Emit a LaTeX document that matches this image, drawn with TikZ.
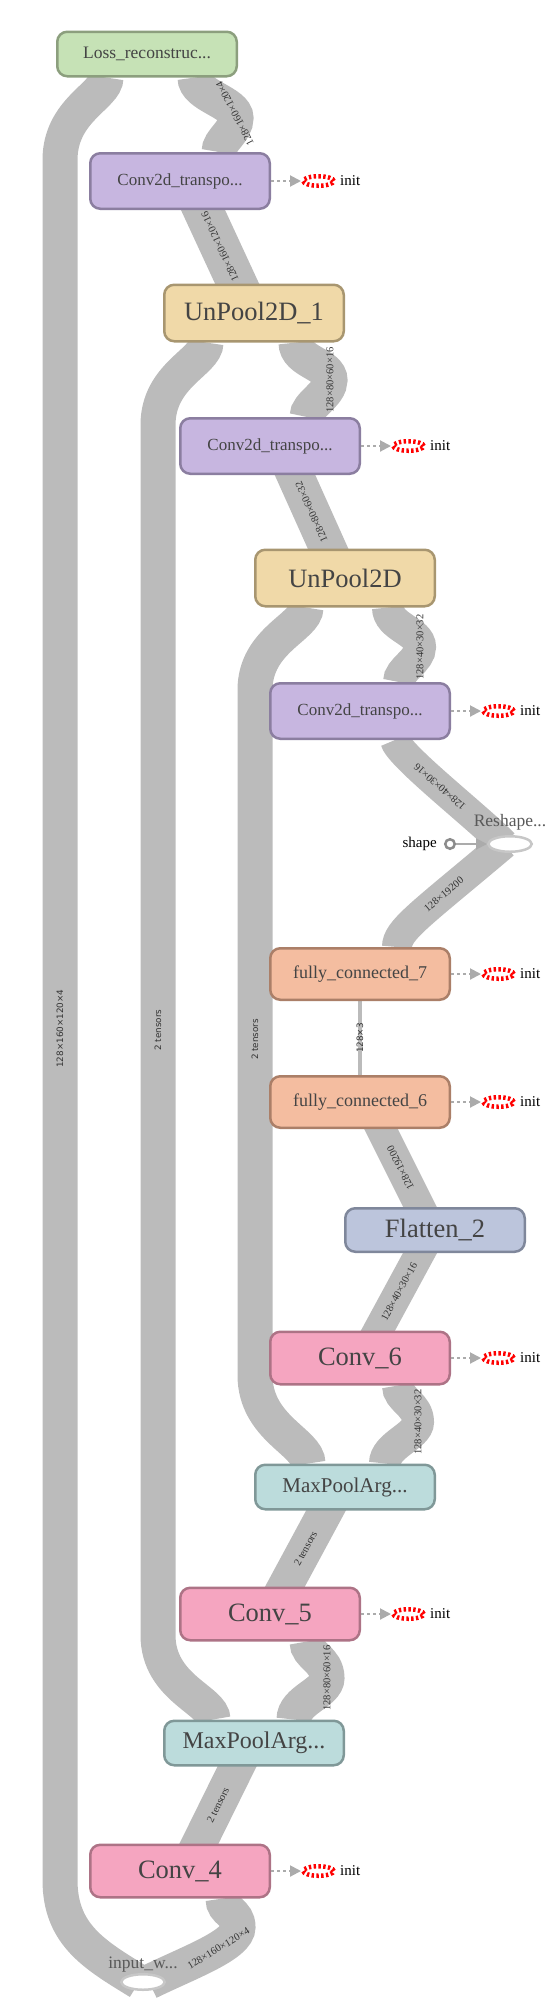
\documentclass[tikz,border=0pt]{standalone}
\usepackage{fontspec}
\setmainfont{Liberation Serif}
\setsansfont{DejaVu Sans}
\usetikzlibrary{arrows.meta,shapes,positioning}
\pgfdeclarelayer{background}
\pgfsetlayers{background,main}
\definecolor{bandgray}{HTML}{BBBBBB}
\definecolor{nodetext}{HTML}{444444}
\definecolor{lossfill}{HTML}{C6E2B6}
\definecolor{lossdraw}{HTML}{8C9F7E}
\definecolor{ctfill}{HTML}{C7B6E0}
\definecolor{ctdraw}{HTML}{8B7EA0}
\definecolor{unpfill}{HTML}{F0D9A8}
\definecolor{unpdraw}{HTML}{A89670}
\definecolor{fcfill}{HTML}{F4BDA0}
\definecolor{fcdraw}{HTML}{AB7F68}
\definecolor{flatfill}{HTML}{BCC5DC}
\definecolor{flatdraw}{HTML}{7F879B}
\definecolor{convfill}{HTML}{F5A5C0}
\definecolor{convdraw}{HTML}{AD7386}
\definecolor{poolfill}{HTML}{BCDCDC}
\definecolor{pooldraw}{HTML}{809898}
\tikzstyle{op}=[rectangle, rounded corners=10pt, line width=2.5pt, minimum width=179.5pt, inner sep=0pt, text=nodetext]
\tikzstyle{loss op}=[op, fill=lossfill, draw=lossdraw, minimum height=44.5pt, font=\fontsize{17.5}{20}\selectfont]
\tikzstyle{convt op}=[op, fill=ctfill, draw=ctdraw, minimum height=55.5pt, font=\fontsize{17}{20}\selectfont]
\tikzstyle{unpool op}=[op, fill=unpfill, draw=unpdraw, minimum height=56.5pt, font=\fontsize{26.5}{30}\selectfont]
\tikzstyle{fc op}=[op, fill=fcfill, draw=fcdraw, minimum height=51.5pt, font=\fontsize{18}{21}\selectfont]
\tikzstyle{flat op}=[op, fill=flatfill, draw=flatdraw, minimum height=43.5pt, font=\fontsize{26.5}{30}\selectfont]
\tikzstyle{conv op}=[op, fill=convfill, draw=convdraw, minimum height=52.5pt, font=\fontsize{26.5}{30}\selectfont]
\tikzstyle{pool op}=[op, fill=poolfill, draw=pooldraw, minimum height=44.5pt]
\tikzstyle{const node}=[ellipse, fill=white, draw=black!22, line width=2.5pt, minimum width=43.5pt, minimum height=15.5pt, inner sep=0pt]
\tikzstyle{const label}=[text=black!65, font=\fontsize{17.5}{18}\selectfont, inner sep=0pt]
\tikzstyle{shape in}=[circle, fill=white, draw=black!45, line width=2.5pt, minimum size=9.5pt, inner sep=0pt]
\tikzstyle{init var}=[ellipse, fill=white, draw=red, line width=4.5pt, dash pattern=on 2.4pt off 2.4pt, minimum width=30.5pt, minimum height=9.5pt, inner sep=0pt]
\tikzstyle{init text}=[font=\fontsize{15}{15}\selectfont, inner sep=0pt]
\tikzstyle{init edge}=[draw=black!33, line width=2pt, dash pattern=on 3pt off 3pt, -{Triangle[length=11pt,width=11pt]}]
\tikzstyle{shape edge}=[draw=black!33, line width=2pt, -{Triangle[length=11pt,width=11pt]}]
\tikzstyle{band}=[draw=bandgray]
\tikzstyle{elabel}=[font=\fontsize{10.5}{11}\selectfont, inner sep=0pt, sloped, allow upside down, text=black!80]
\tikzstyle{vlabel}=[elabel, font=\sffamily\fontsize{8.8}{9}\selectfont]

\begin{document}
\begin{tikzpicture}[x=1pt,y=-1pt]
    \useasboundingbox (0,0) rectangle (558,2000);
    % Op nodes, from the top down
    \node[loss op] (loss) at (147,54) {Loss\_reconstruc...};
    \node[convt op] (ct1) at (180,181) {Conv2d\_transpo...};
    \node[unpool op] (unp1) at (254,313) {UnPool2D\_1};
    \node[convt op] (ct2) at (270,446) {Conv2d\_transpo...};
    \node[unpool op] (unp) at (345,578) {UnPool2D};
    \node[convt op] (ct3) at (360,711) {Conv2d\_transpo...};
    \node[const node] (reshape) at (510,844) {};
    \node[fc op] (fc7) at (360,974) {fully\_connected\_7};
    \node[fc op] (fc6) at (360,1102) {fully\_connected\_6};
    \node[flat op] (flat) at (435,1230) {Flatten\_2};
    \node[conv op] (conv6) at (360,1358) {Conv\_6};
    \node[pool op, font=\fontsize{21}{24}\selectfont] (mpa1) at (345,1487) {MaxPoolArg...};
    \node[conv op] (conv5) at (270,1614) {Conv\_5};
    \node[pool op, font=\fontsize{24}{27}\selectfont] (mpa2) at (254,1743) {MaxPoolArg...};
    \node[conv op] (conv4) at (180,1871) {Conv\_4};
    \node[const node] (input) at (143,1982) {};

    % Constant labels and the shape input
    \node[const label, above=5pt of reshape] (reshapelbl) {Reshape...};
    \node[const label, above=1pt of input] (inputlbl) {input\_w...};
    \node[shape in, left=31pt of reshape] (shape) {};
    \node[init text, left=7pt of shape] (shapelbl) {shape};
    \path[shape edge] (shape) -- (reshape);

    % Init variables
    \foreach \name in {ct1,ct2,ct3,fc7,fc6,conv6,conv5,conv4}{
        \node[init var, right=30pt of \name] (\name init) {};
        \node[init text, right=4pt of \name init] {init};
        \path[init edge] (\name) -- (\name init);
    }

    \begin{pgfonlayer}{background}
    % Long bands on the left
    \path[band, line width=35pt] ([xshift=-4pt]input.center) .. controls (95,1955) and (60,1935) .. (60,1880)
        -- node[vlabel, pos=0.495] {128×160×120×4} (60,160) .. controls (60,110) and (106,96) .. ([xshift=-41pt]loss.south);
    \path[band, line width=35pt] ([xshift=-41pt]mpa2.north) .. controls (213,1700) and (158,1688) .. (158,1635)
        -- node[vlabel] {2 tensors} (158,425) .. controls (158,375) and (206,362) .. ([xshift=-48pt]unp1.south);
    \path[band, line width=35pt] ([xshift=-37pt]mpa1.north) .. controls (308,1442) and (255,1428) .. (255,1375)
        -- node[vlabel, pos=0.49] {2 tensors} (255,690) .. controls (255,640) and (306,627) .. ([xshift=-39pt]unp.south);

    % S-shaped bands
    \path[band, line width=35pt] ([xshift=39pt]ct1.north) .. controls (219,140) and (236,132) .. (236,118)
        .. controls (236,102) and (195,96) .. node[elabel, pos=0.1] {128×160×120×4} ([xshift=48pt]loss.south);
    \path[band, line width=35pt] ([xshift=37pt]ct2.north) .. controls (307,404) and (330,395) .. node[elabel, pos=1] {128×80×60×16} (330,380)
        .. controls (330,364) and (296,362) .. ([xshift=42pt]unp1.south);
    \path[band, line width=32pt] ([xshift=39pt]ct3.north) .. controls (399,669) and (420,661) .. node[elabel, pos=1] {128×40×30×32} (420,647)
        .. controls (420,631) and (388,627) .. ([xshift=43pt]unp.south);
    \path[band, line width=32pt] ([xshift=40pt]mpa1.north) .. controls (385,1445) and (418,1436) .. node[elabel, pos=1] {128×40×30×32} (418,1422)
        .. controls (418,1404) and (398,1400) .. ([xshift=38pt]conv6.south);
    \path[band, line width=35pt] ([xshift=40pt]mpa2.north) .. controls (294,1700) and (327,1693) .. node[elabel, pos=1] {128×80×60×16} (327,1678)
        .. controls (327,1659) and (307,1656) .. ([xshift=37pt]conv5.south);
    \path[band, line width=35pt] ([xshift=6pt]input.center) .. controls (190,1962) and (238,1945) .. node[elabel, pos=0.6] {128×160×120×4} (238,1927)
        .. controls (238,1912) and (223,1912) .. ([xshift=43pt]conv4.south);

    % Bands through Reshape
    \path[band, line width=30pt] ([xshift=-6pt]reshape.center) .. controls (475,815) and (398,755) .. node[elabel, pos=0.5] {128×40×30×16} ([xshift=35pt]ct3.south);
    \path[band, line width=30pt] ([xshift=37pt]fc7.north) .. controls (397,930) and (420,915) .. node[elabel, pos=0.7] {128×19200} ([xshift=-6pt]reshape.center);
    \path[band, line width=4pt] (fc6) -- node[vlabel] {128×3} (fc7);

    % Straight bands
    \foreach \src/\sx/\dst/\dx/\bw/\lbl in {unp1/-17/ct1/23/40/128×160×120×16, unp/-17/ct2/25/37/128×80×60×32,
        flat/-15/fc6/21/30/128×19200, conv6/18/flat/-15/30/128×40×30×16, conv5/15/mpa1/-19/35/2 tensors, conv4/19/mpa2/-17/35/2 tensors}
        \path[band, line width=\bw pt, shorten <=-10pt, shorten >=-10pt] ([xshift=\sx pt]\src.north) -- node[elabel] {\lbl} ([xshift=\dx pt]\dst.south);
    \end{pgfonlayer}
\end{tikzpicture}
\end{document}
